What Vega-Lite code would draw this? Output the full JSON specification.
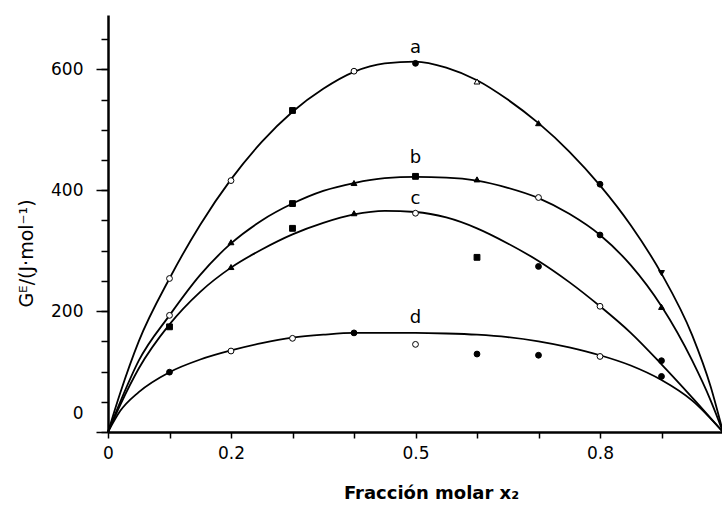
{
  "$schema": "https://vega.github.io/schema/vega-lite/v6.json",
  "width": 615,
  "height": 417,
  "autosize": {"type": "none"},
  "padding": {"left": 108, "top": 15, "right": 0, "bottom": 73},
  "background": "white",
  "config": {
    "view": {"stroke": null},
    "font": "DejaVu Sans",
    "axis": {"grid": false, "domainColor": "black", "tickColor": "black", "labelColor": "black", "titleColor": "black"}
  },
  "datasets": {
    "curvas": [
      {"curva": "a", "x": 0, "g": 0}, {"curva": "a", "x": 0.02, "g": 65}, {"curva": "a", "x": 0.05, "g": 150}, {"curva": "a", "x": 0.1, "g": 254}, {"curva": "a", "x": 0.15, "g": 343}, {"curva": "a", "x": 0.2, "g": 418}, {"curva": "a", "x": 0.25, "g": 480}, {"curva": "a", "x": 0.3, "g": 530}, {"curva": "a", "x": 0.35, "g": 568}, {"curva": "a", "x": 0.4, "g": 596}, {"curva": "a", "x": 0.45, "g": 610}, {"curva": "a", "x": 0.5, "g": 613}, {"curva": "a", "x": 0.55, "g": 603}, {"curva": "a", "x": 0.6, "g": 582}, {"curva": "a", "x": 0.65, "g": 550}, {"curva": "a", "x": 0.7, "g": 511}, {"curva": "a", "x": 0.75, "g": 464}, {"curva": "a", "x": 0.8, "g": 408}, {"curva": "a", "x": 0.85, "g": 342}, {"curva": "a", "x": 0.9, "g": 262}, {"curva": "a", "x": 0.95, "g": 160}, {"curva": "a", "x": 0.98, "g": 75}, {"curva": "a", "x": 1, "g": 0},
      {"curva": "b", "x": 0, "g": 0}, {"curva": "b", "x": 0.02, "g": 50}, {"curva": "b", "x": 0.05, "g": 118}, {"curva": "b", "x": 0.1, "g": 193}, {"curva": "b", "x": 0.15, "g": 260}, {"curva": "b", "x": 0.2, "g": 312}, {"curva": "b", "x": 0.25, "g": 350}, {"curva": "b", "x": 0.3, "g": 378}, {"curva": "b", "x": 0.35, "g": 399}, {"curva": "b", "x": 0.4, "g": 412}, {"curva": "b", "x": 0.45, "g": 420}, {"curva": "b", "x": 0.5, "g": 422}, {"curva": "b", "x": 0.55, "g": 421}, {"curva": "b", "x": 0.6, "g": 416}, {"curva": "b", "x": 0.65, "g": 404}, {"curva": "b", "x": 0.7, "g": 387}, {"curva": "b", "x": 0.75, "g": 361}, {"curva": "b", "x": 0.8, "g": 326}, {"curva": "b", "x": 0.85, "g": 276}, {"curva": "b", "x": 0.9, "g": 208}, {"curva": "b", "x": 0.95, "g": 118}, {"curva": "b", "x": 0.98, "g": 52}, {"curva": "b", "x": 1, "g": 0},
      {"curva": "c", "x": 0, "g": 0}, {"curva": "c", "x": 0.02, "g": 45}, {"curva": "c", "x": 0.05, "g": 105}, {"curva": "c", "x": 0.1, "g": 178}, {"curva": "c", "x": 0.15, "g": 232}, {"curva": "c", "x": 0.2, "g": 272}, {"curva": "c", "x": 0.25, "g": 302}, {"curva": "c", "x": 0.3, "g": 327}, {"curva": "c", "x": 0.35, "g": 346}, {"curva": "c", "x": 0.4, "g": 360}, {"curva": "c", "x": 0.45, "g": 366}, {"curva": "c", "x": 0.5, "g": 364}, {"curva": "c", "x": 0.55, "g": 355}, {"curva": "c", "x": 0.6, "g": 337}, {"curva": "c", "x": 0.65, "g": 312}, {"curva": "c", "x": 0.7, "g": 283}, {"curva": "c", "x": 0.75, "g": 248}, {"curva": "c", "x": 0.8, "g": 208}, {"curva": "c", "x": 0.85, "g": 164}, {"curva": "c", "x": 0.9, "g": 112}, {"curva": "c", "x": 0.95, "g": 57}, {"curva": "c", "x": 1, "g": 0},
      {"curva": "d", "x": 0, "g": 0}, {"curva": "d", "x": 0.02, "g": 35}, {"curva": "d", "x": 0.05, "g": 66}, {"curva": "d", "x": 0.1, "g": 99}, {"curva": "d", "x": 0.15, "g": 120}, {"curva": "d", "x": 0.2, "g": 135}, {"curva": "d", "x": 0.25, "g": 147}, {"curva": "d", "x": 0.3, "g": 156}, {"curva": "d", "x": 0.35, "g": 161}, {"curva": "d", "x": 0.4, "g": 164}, {"curva": "d", "x": 0.45, "g": 164}, {"curva": "d", "x": 0.5, "g": 164}, {"curva": "d", "x": 0.55, "g": 163}, {"curva": "d", "x": 0.6, "g": 161}, {"curva": "d", "x": 0.65, "g": 157}, {"curva": "d", "x": 0.7, "g": 150}, {"curva": "d", "x": 0.75, "g": 140}, {"curva": "d", "x": 0.8, "g": 127}, {"curva": "d", "x": 0.85, "g": 110}, {"curva": "d", "x": 0.9, "g": 86}, {"curva": "d", "x": 0.95, "g": 52}, {"curva": "d", "x": 1, "g": 0}
    ],
    "puntos": [
      {"curva": "a", "x": 0.1, "g": 254, "m": "o"}, {"curva": "a", "x": 0.2, "g": 416, "m": "o"}, {"curva": "a", "x": 0.3, "g": 532, "m": "s"}, {"curva": "a", "x": 0.4, "g": 597, "m": "o"}, {"curva": "a", "x": 0.5, "g": 610, "m": "f"}, {"curva": "a", "x": 0.6, "g": 580, "m": "to"}, {"curva": "a", "x": 0.7, "g": 511, "m": "t"}, {"curva": "a", "x": 0.8, "g": 410, "m": "f"}, {"curva": "a", "x": 0.9, "g": 263, "m": "v"},
      {"curva": "b", "x": 0.1, "g": 193, "m": "o"}, {"curva": "b", "x": 0.2, "g": 314, "m": "t"}, {"curva": "b", "x": 0.3, "g": 378, "m": "s"}, {"curva": "b", "x": 0.4, "g": 412, "m": "t"}, {"curva": "b", "x": 0.5, "g": 423, "m": "s"}, {"curva": "b", "x": 0.6, "g": 418, "m": "t"}, {"curva": "b", "x": 0.7, "g": 388, "m": "o"}, {"curva": "b", "x": 0.8, "g": 326, "m": "f"}, {"curva": "b", "x": 0.9, "g": 207, "m": "t"},
      {"curva": "c", "x": 0.1, "g": 174, "m": "s"}, {"curva": "c", "x": 0.2, "g": 273, "m": "t"}, {"curva": "c", "x": 0.3, "g": 337, "m": "s"}, {"curva": "c", "x": 0.4, "g": 362, "m": "t"}, {"curva": "c", "x": 0.5, "g": 362, "m": "o"}, {"curva": "c", "x": 0.6, "g": 289, "m": "s"}, {"curva": "c", "x": 0.7, "g": 274, "m": "f"}, {"curva": "c", "x": 0.8, "g": 208, "m": "o"}, {"curva": "c", "x": 0.9, "g": 118, "m": "f"},
      {"curva": "d", "x": 0.1, "g": 99, "m": "f"}, {"curva": "d", "x": 0.2, "g": 134, "m": "o"}, {"curva": "d", "x": 0.3, "g": 155, "m": "o"}, {"curva": "d", "x": 0.4, "g": 164, "m": "f"}, {"curva": "d", "x": 0.5, "g": 145, "m": "o"}, {"curva": "d", "x": 0.6, "g": 129, "m": "f"}, {"curva": "d", "x": 0.7, "g": 127, "m": "f"}, {"curva": "d", "x": 0.8, "g": 125, "m": "o"}, {"curva": "d", "x": 0.9, "g": 92, "m": "f"}
    ],
    "etiquetas": [
      {"curva": "a", "x": 0.5, "g": 636},
      {"curva": "b", "x": 0.5, "g": 453},
      {"curva": "c", "x": 0.5, "g": 385},
      {"curva": "d", "x": 0.5, "g": 188}
    ]
  },
  "layer": [
    {
      "data": {"name": "curvas"},
      "mark": {"type": "line", "color": "black", "strokeWidth": 1.8, "interpolate": "monotone"},
      "encoding": {
        "x": {
          "field": "x", "type": "quantitative",
          "scale": {"domain": [0, 1], "nice": false},
          "axis": {
            "values": [0, 0.1, 0.2, 0.3, 0.4, 0.5, 0.6, 0.7, 0.8, 0.9, 1.0],
            "tickSize": 6, "tickWidth": 1.5, "domainWidth": 2.5,
            "labelExpr": "datum.value == 0 ? '0' : ((abs(datum.value - 0.2) < 0.01 || abs(datum.value - 0.5) < 0.01 || abs(datum.value - 0.8) < 0.01) ? format(datum.value, '.1f') : '')",
            "labelFontSize": 17, "labelPadding": 7, "labelFlush": false, "labelOverlap": false,
            "title": "Fracción molar  x₂", "titleFontSize": 18, "titleFontWeight": "bold",
            "titleX": 323, "titleY": 61, "titleBaseline": "middle"
          }
        },
        "y": {
          "field": "g", "type": "quantitative",
          "scale": {"domain": [0, 690], "nice": false},
          "axis": {
            "orient": "left",
            "values": [0, 50, 100, 150, 200, 250, 300, 350, 400, 450, 500, 550, 600, 650],
            "labels": false, "title": null,
            "tickSize": 7, "tickWidth": 1.5, "domainWidth": 2.5
          }
        },
        "detail": {"field": "curva"}
      }
    },
    {
      "data": {"name": "puntos"},
      "mark": {"type": "point", "filled": true, "stroke": "black", "strokeWidth": 1, "size": 34, "opacity": 1},
      "encoding": {
        "x": {"field": "x", "type": "quantitative"},
        "y": {
          "field": "g", "type": "quantitative",
          "axis": {
            "orient": "left",
            "values": [0, 200, 400, 600],
            "tickSize": 12, "tickWidth": 1.5, "domain": false,
            "labelFontSize": 17, "labelPadding": 13,
            "labelOffset": {"condition": {"test": "datum.value == 0", "value": -19}, "value": 0},
            "title": "Gᴱ/(J·mol⁻¹)", "titleFontSize": 19, "titleFontWeight": "normal",
            "titleX": -82, "titleY": 238, "titleAngle": -90, "titleBaseline": "middle", "titleAlign": "center"
          }
        },
        "shape": {
          "field": "m", "type": "nominal", "legend": null,
          "scale": {"domain": ["o", "f", "s", "t", "to", "v"], "range": ["circle", "circle", "square", "triangle-up", "triangle-up", "triangle-down"]}
        },
        "fill": {
          "field": "m", "type": "nominal", "legend": null,
          "scale": {"domain": ["o", "f", "s", "t", "to", "v"], "range": ["white", "black", "black", "black", "white", "black"]}
        }
      }
    },
    {
      "data": {"name": "etiquetas"},
      "mark": {"type": "text", "fontSize": 18, "color": "black", "baseline": "middle", "align": "center"},
      "encoding": {
        "x": {"field": "x", "type": "quantitative"},
        "y": {"field": "g", "type": "quantitative", "axis": null},
        "text": {"field": "curva"}
      }
    }
  ],
  "resolve": {"axis": {"y": "independent"}}
}
